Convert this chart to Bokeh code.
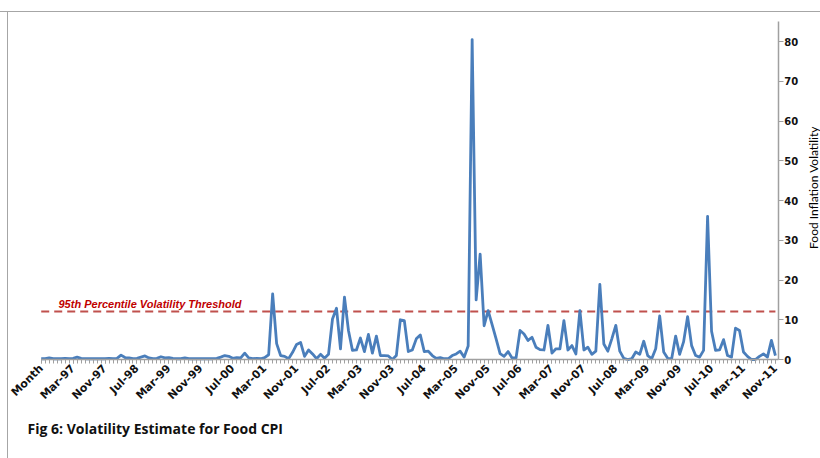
import math
from bokeh.plotting import figure
from bokeh.models import Range1d, FixedTicker, Label, Div, LinearAxis
from bokeh.layouts import column, row
from bokeh.embed import file_html
from bokeh.resources import INLINE

# ---------------- data ----------------
tick_labels = ["Month", "Mar-97", "Nov-97", "Jul-98", "Mar-99", "Nov-99", "Jul-00",
               "Mar-01", "Nov-01", "Jul-02", "Mar-03", "Nov-03", "Jul-04", "Mar-05",
               "Nov-05", "Jul-06", "Mar-07", "Nov-07", "Jul-08", "Mar-09", "Nov-09",
               "Jul-10", "Mar-11", "Nov-11"]

volatility = [
    0.2, 0.2, 0.4, 0.2, 0.2, 0.2, 0.3, 0.2, 0.3, 0.6,
    0.3, 0.2, 0.2, 0.2, 0.2, 0.2, 0.2, 0.3, 0.2, 0.3,
    1.1, 0.5, 0.4, 0.2, 0.3, 0.6, 0.9, 0.4, 0.2, 0.3,
    0.7, 0.4, 0.5, 0.3, 0.2, 0.2, 0.4, 0.2, 0.2, 0.2,
    0.2, 0.2, 0.2, 0.2, 0.3, 0.6, 1.0, 0.8, 0.3, 0.5,
    0.4, 1.6, 0.4, 0.2, 0.3, 0.2, 0.5, 1.2, 16.5, 4.0,
    1.0, 0.8, 0.2, 1.8, 3.8, 4.3, 0.8, 2.4, 1.4, 0.2,
    1.3, 0.3, 1.3, 10.2, 12.9, 2.7, 15.7, 7.3, 2.3, 2.4,
    5.4, 2.0, 6.3, 1.6, 5.9, 1.0, 1.0, 0.9, 0.0, 1.0,
    10.0, 9.8, 2.0, 2.4, 5.2, 6.2, 2.0, 2.1, 1.0, 0.3,
    0.5, 0.2, 0.2, 1.0, 1.4, 2.1, 0.6, 3.4, 80.5, 15.0,
    26.5, 8.5, 12.3, 8.8, 5.2, 1.5, 0.8, 2.0, 0.4, 0.4,
    7.3, 6.4, 4.8, 5.6, 3.1, 2.5, 2.4, 8.6, 1.6, 2.7,
    2.7, 9.8, 2.4, 3.5, 1.4, 12.3, 2.4, 3.1, 1.3, 2.1,
    18.9, 3.9, 2.1, 5.2, 8.6, 2.1, 0.3, 0.0, 0.2, 1.9,
    1.3, 4.6, 1.0, 0.2, 2.7, 11.0, 1.9, 0.3, 0.2, 5.9,
    1.3, 4.5, 10.8, 3.5, 1.0, 0.6, 2.3, 36.0, 7.1, 2.3,
    2.4, 5.0, 1.0, 0.6, 7.9, 7.3, 1.9, 0.8, 0.0, 0.0,
    0.8, 1.4, 0.6, 4.8, 1.0,
]

threshold_value = 12.1
threshold = [threshold_value] * len(volatility)
y_ticks = [0, 10, 20, 30, 40, 50, 60, 70, 80]
y_axis_max = 85
threshold_text = "95th Percentile Volatility  Threshold"
y_title = "Food Inflation Volatility"
caption = "Fig 6: Volatility Estimate for Food CPI"

months = list(range(len(volatility)))
label_positions = months[::8]
axis_end = len(volatility) - 0.3          # value axis sits just after the last month

# ---------------- figure ----------------
# the plot frame covers the whole canvas; axes are fixed at 0 / after the last month
p = figure(width=812, height=446,
           x_range=Range1d(-8.2, 195.3), y_range=Range1d(-24.9, 87.3),
           x_axis_location=None, y_axis_location=None,
           output_backend="svg", toolbar_location=None,
           min_border_left=0, min_border_right=0,
           min_border_top=0, min_border_bottom=0)
p.outline_line_color = None
p.grid.visible = False
p.background_fill_color = "white"
p.border_fill_color = "white"

p.line(months, threshold, line_color="#C0504D", line_width=2, line_dash="8 5")
p.line(months, volatility, line_color="#4A7EBB", line_width=2.8, line_join="round")

# category axis
xa = LinearAxis(fixed_location=0, bounds=(0, axis_end),
                ticker=FixedTicker(ticks=label_positions, minor_ticks=months))
xa.major_label_overrides = {pos: lab for pos, lab in zip(label_positions, tick_labels)}
xa.major_label_orientation = math.pi / 4
xa.major_label_text_font = "DejaVu Sans"
xa.major_label_text_font_style = "bold"
xa.major_label_text_font_size = "11px"
xa.major_label_text_color = "#111111"
xa.major_label_standoff = 3
xa.axis_line_color = "#a0a0a0"
xa.axis_line_width = 1.5
xa.major_tick_line_color = "#a0a0a0"
xa.minor_tick_line_color = "#a0a0a0"
xa.major_tick_in = 0
xa.major_tick_out = 4
xa.minor_tick_in = 0
xa.minor_tick_out = 4
p.add_layout(xa, "below")

# value axis on the right, fixed at the end of the months
ya = LinearAxis(fixed_location=axis_end, bounds=(0, y_axis_max),
                ticker=FixedTicker(ticks=y_ticks, minor_ticks=[]))
ya.major_label_text_font = "DejaVu Sans"
ya.major_label_text_font_style = "bold"
ya.major_label_text_font_size = "10px"
ya.major_label_text_color = "#111111"
ya.major_label_standoff = 1
ya.axis_line_color = "#a0a0a0"
ya.axis_line_width = 1.5
ya.major_tick_line_color = "#a0a0a0"
ya.major_tick_in = 0
ya.major_tick_out = 5
ya.minor_tick_line_color = None
p.add_layout(ya, "right")

# threshold text
p.add_layout(Label(x=50, y=155, x_units="screen", y_units="screen",
                   text=threshold_text, text_color="#C00000",
                   text_font="Liberation Sans", text_font_style="bold italic",
                   text_font_size="11px", text_baseline="middle", text_align="left"))

# value axis title
p.add_layout(Label(x=805, y=271, x_units="screen", y_units="screen",
                   text=y_title, angle=math.pi / 2, text_color="#000000",
                   text_font="Lato", text_font_size="12px",
                   text_baseline="middle", text_align="center"))

# caption under the chart
p.add_layout(Label(x=19, y=30, x_units="screen", y_units="screen",
                   text=caption, text_color="#111111",
                   text_font="Open Sans", text_font_style="bold",
                   text_font_size="14px", text_baseline="middle", text_align="left"))

top_rule = Div(text="", width=820, height=1, margin=(11, 0, 0, 0),
               styles={"background-color": "#a6a6a6"})
left_rule = Div(text="", width=1, height=446, margin=(0, 0, 0, 7),
                styles={"background-color": "#a6a6a6"})

layout = column(top_rule, row(left_rule, p, spacing=0), spacing=0)

open("out.html", "w").write(file_html(layout, INLINE))
